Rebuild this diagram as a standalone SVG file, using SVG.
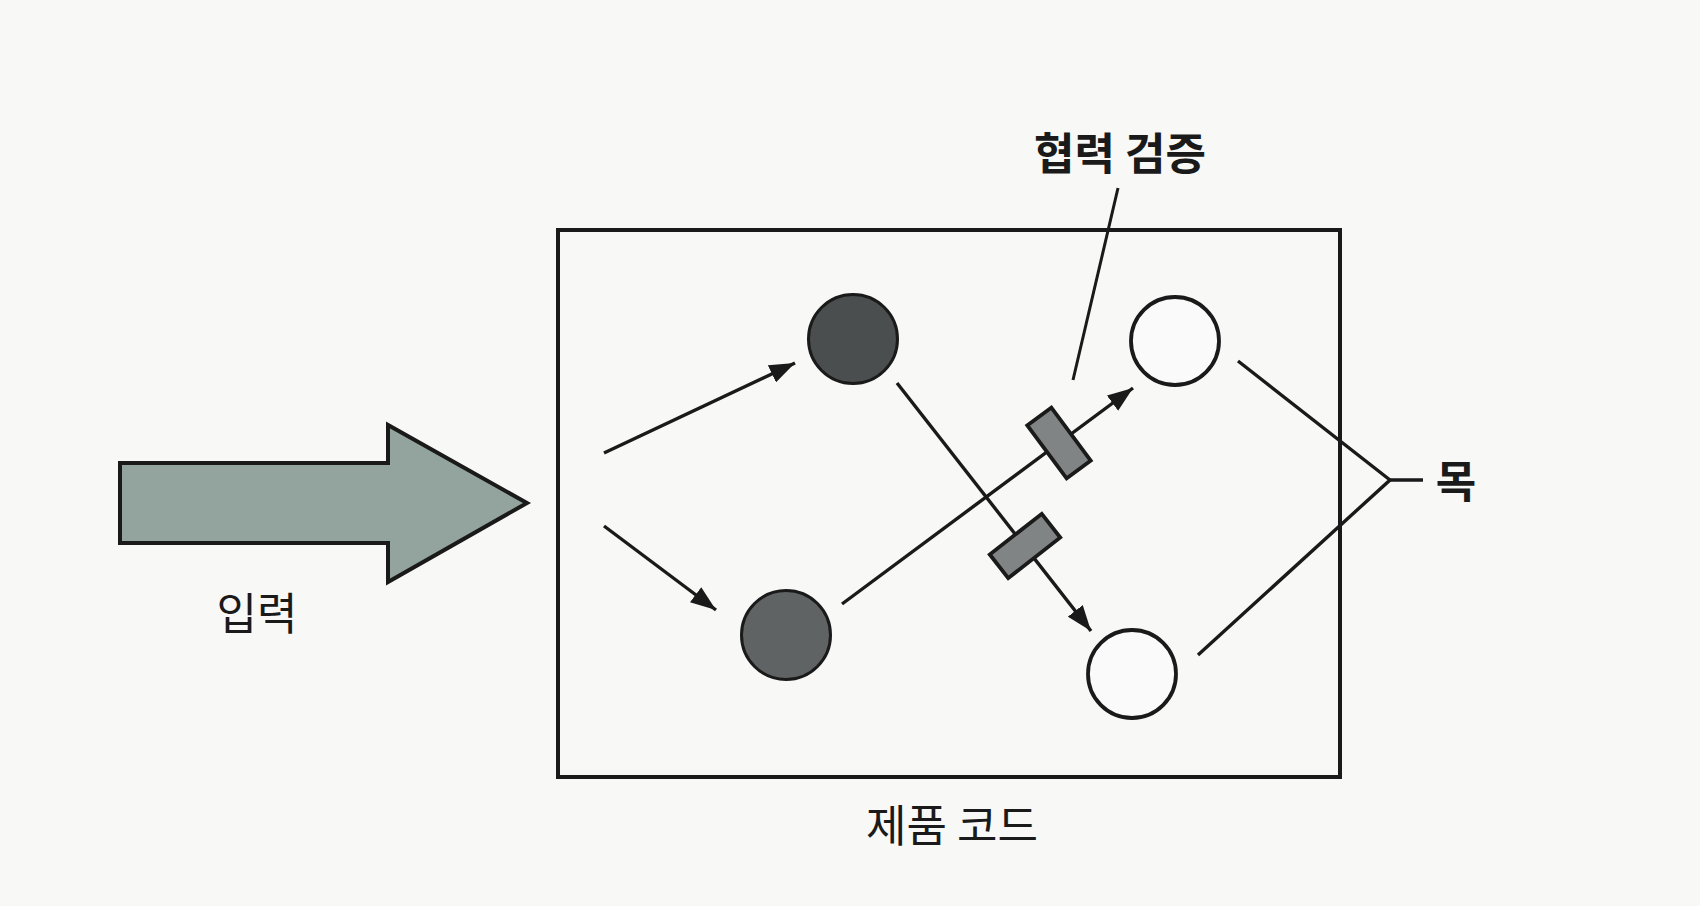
<svg xmlns="http://www.w3.org/2000/svg" width="1700" height="906" viewBox="0 0 1700 906">
<defs>
<style>
.ln{stroke:#1a1a1a;stroke-width:3.4;fill:none;stroke-linecap:butt}
.lead{stroke:#1a1a1a;stroke-width:3;fill:none}
.lbl{font-family:"Noto Sans CJK KR","Noto Sans",sans-serif;fill:#1a1a1a;text-anchor:middle}
.b{font-weight:bold}
.dark{stroke:#1a1a1a;stroke-width:3}
.open{fill:#fafafa;stroke:#1a1a1a;stroke-width:3.8}
.gate{fill:#818484;stroke:#1a1a1a;stroke-width:3.8}
</style>
<marker id="ah" viewBox="0 0 10 7.4" refX="10" refY="3.7" markerWidth="7.5" markerHeight="5.6" orient="auto" markerUnits="strokeWidth">
<path d="M0,0 L10,3.7 L0,7.4 z" fill="#1a1a1a"/>
</marker>
</defs>
<rect width="1700" height="906" fill="#f8f8f6"/>
<g id="input">
<polygon points="120,463 388,463 388,425 527,503 388,582 388,543 120,543" fill="#93a39d" stroke="#1a1a1a" stroke-width="4" stroke-linejoin="miter"/>
<text class="lbl" x="257" y="630" font-size="44">입력</text>
</g>
<g id="product-code">
<rect x="558" y="230" width="782" height="547" fill="none" stroke="#1a1a1a" stroke-width="4"/>
<text class="lbl" x="952" y="842" font-size="44">제품 코드</text>
</g>
<g id="connectors">
<line class="ln" x1="604" y1="453" x2="795" y2="363" marker-end="url(#ah)"/>
<line class="ln" x1="604" y1="526" x2="716" y2="610" marker-end="url(#ah)"/>
<line class="ln" x1="897" y1="383" x2="1091" y2="631" marker-end="url(#ah)"/>
<line class="ln" x1="842" y1="604" x2="1133" y2="388" marker-end="url(#ah)"/>
<line class="lead" x1="1118" y1="188" x2="1073" y2="380"/>
<polyline class="ln" points="1238,361 1390,480 1198,655"/>
<line class="ln" x1="1390" y1="480" x2="1423" y2="480"/>
</g>
<g id="node-a1"><circle cx="853" cy="339" r="44.5" fill="#4b4e4e" class="dark"/></g>
<g id="node-a2"><circle cx="786" cy="635" r="44.5" fill="#5f6363" class="dark"/></g>
<g id="node-b1"><circle cx="1175" cy="341" r="44" class="open"/></g>
<g id="node-b2"><circle cx="1132" cy="674" r="44" class="open"/></g>
<g id="gate-1"><rect x="-15" y="-33" width="30" height="66" class="gate" transform="translate(1059,443) rotate(-36.6)"/></g>
<g id="gate-2"><rect x="-15" y="-33" width="30" height="66" class="gate" transform="translate(1025,546) rotate(52)"/></g>
<g id="label-verify"><text class="lbl b" x="1120" y="170" font-size="44">협력 검증</text></g>
<g id="label-mock"><text class="lbl b" x="1456" y="498" font-size="44">목</text></g>
</svg>
